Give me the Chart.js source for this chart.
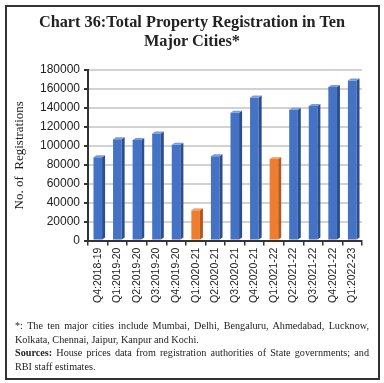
<!DOCTYPE html>
<html><head><meta charset="utf-8">
<script src="https://cdn.jsdelivr.net/npm/chart.js@4"></script>
<style>
html,body{margin:0;padding:0;background:#fff;}
#wrap{position:absolute;left:0;top:0;width:384px;height:383px;}
#frame{position:absolute;left:5px;top:5px;width:371px;height:371px;border:2px solid #333;pointer-events:none;}
#title{position:absolute;left:0;top:12px;width:384px;text-align:center;font-family:"Liberation Serif","DejaVu Serif",serif;font-weight:bold;font-size:16.3px;line-height:19px;color:#222;}
#note{position:absolute;left:15px;top:319px;width:354px;font-family:"Liberation Serif","DejaVu Serif",serif;font-size:10.2px;line-height:13.6px;color:#222;text-align:justify;}
canvas{position:absolute;left:0;top:0;}
</style></head>
<body>
<div id="wrap">
<canvas id="c" width="384" height="383"></canvas>
<div id="title">Chart 36:Total Property Registration in Ten<br>Major Cities*</div>
<div id="note">*: The ten major cities include Mumbai, Delhi, Bengaluru, Ahmedabad, Lucknow, Kolkata, Chennai, Jaipur, Kanpur and Kochi.<br><b>Sources:</b> House prices data from registration authorities of State governments; and RBI staff estimates.</div>
<div id="frame"></div>
</div>
<script>
const categories = ["Q4:2018-19","Q1:2019-20","Q2:2019-20","Q3:2019-20","Q4:2019-20","Q1:2020-21","Q2:2020-21","Q3:2020-21","Q4:2020-21","Q1:2021-22","Q2:2021-22","Q3:2021-22","Q4:2021-22","Q1:2022-23"];
const registrations = [88000,107000,106000,113000,101000,32000,89000,135000,151000,86000,138000,142000,162000,169000];
const highlighted = ["Q1:2020-21","Q1:2021-22"];
const yTicks = [0,20000,40000,60000,80000,100000,120000,140000,160000,180000];

const BLUE = {front:"#4472C4", side:"#2B4F8E", top:"#7A9BDA"};
const ORANGE = {front:"#ED7D31", side:"#B45A1C", top:"#F5A66E"};
const pal = categories.map(c => highlighted.includes(c) ? ORANGE : BLUE);

const bar3d = {
  id:"bar3d",
  afterDatasetsDraw(chart){
    const ctx = chart.ctx;
    const meta = chart.getDatasetMeta(0);
    const d = 3;
    meta.data.forEach((el,i)=>{
      const {x,y,base,width} = el.getProps(["x","y","base","width"],true);
      const l = x - width/2, r = x + width/2;
      ctx.save();
      ctx.fillStyle = pal[i].side;
      ctx.beginPath();
      ctx.moveTo(r,y); ctx.lineTo(r+d,y-d+1); ctx.lineTo(r+d,base-d+1); ctx.lineTo(r,base); ctx.closePath(); ctx.fill();
      ctx.fillStyle = pal[i].top;
      ctx.beginPath();
      ctx.moveTo(l,y); ctx.lineTo(l+d,y-d+1); ctx.lineTo(r+d,y-d+1); ctx.lineTo(r,y); ctx.closePath(); ctx.fill();
      ctx.restore();
    });
  }
};

new Chart(document.getElementById("c"),{
  type:"bar",
  data:{labels:categories,datasets:[{data:registrations,backgroundColor:pal.map(p=>p.front),borderWidth:0,barPercentage:0.44,categoryPercentage:1}]},
  options:{
    responsive:false,animation:false,
    layout:{padding:{left:12,right:22,top:70,bottom:78}},
    plugins:{legend:{display:false},tooltip:{enabled:false},title:{display:false}},
    scales:{
      x:{
        grid:{display:true,drawOnChartArea:false,offset:true,tickLength:5,color:"#333",lineWidth:1.5},
        border:{display:true,color:"#333",width:2},
        ticks:{maxRotation:90,minRotation:90,autoSkip:false,padding:2,color:"#222",font:{family:"'Liberation Sans',Arial,sans-serif",size:10.5}}
      },
      y:{
        min:0,max:180000,
        afterBuildTicks(s){ s.ticks = yTicks.map(v=>({value:v})); },
        afterFit(s){ s.width = 76; },
        grid:{color:"#d2d2d2",lineWidth:2,tickLength:4,tickColor:"#333"},
        border:{display:true,color:"#333",width:2},
        title:{display:true,text:"No. of  Registrations",color:"#222",font:{family:"'Liberation Serif',serif",size:13},padding:{top:0,bottom:4}},
        ticks:{color:"#222",padding:4,callback:v=>String(v),font:{family:"'Liberation Sans',Arial,sans-serif",size:12}}
      }
    }
  },
  plugins:[bar3d]
});
</script>
</body></html>
